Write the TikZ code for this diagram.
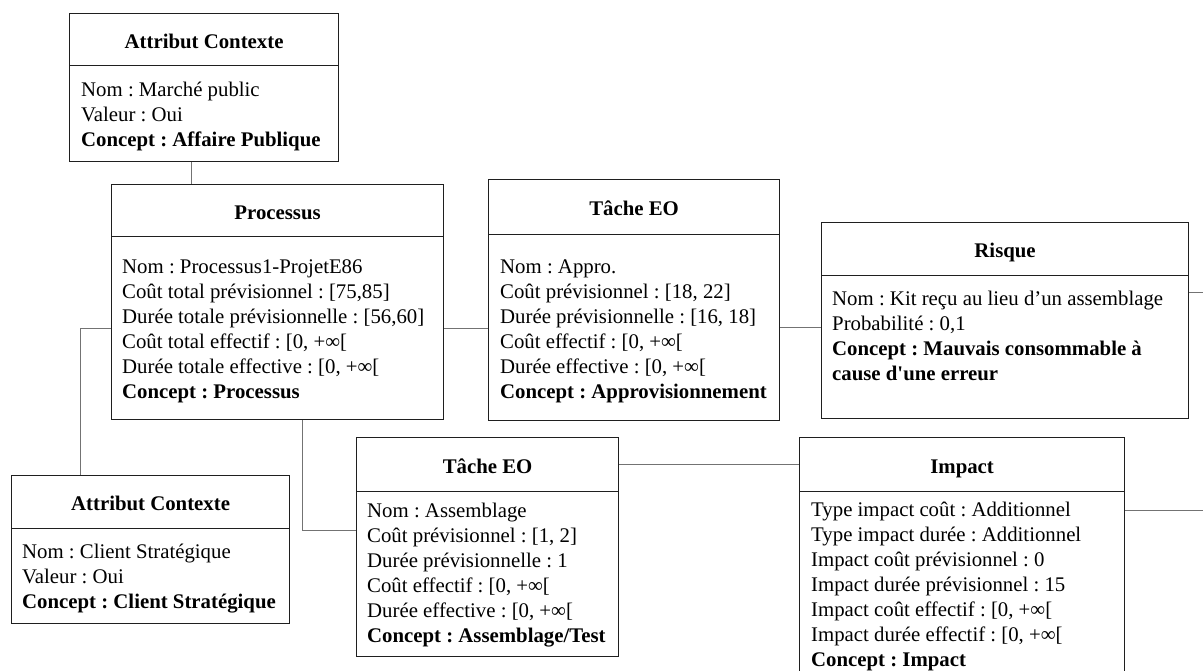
\documentclass[tikz,border=0pt]{standalone}
\usepackage{fontspec}
\setmainfont{Liberation Serif}
\usetikzlibrary{calc}
\frenchspacing
\begin{document}
\begin{tikzpicture}[x=1pt,y=-1pt,
  boxpart/.style={draw=black!88, line width=1.2pt, rectangle, inner sep=0pt, anchor=north west},
  headbox/.style={boxpart, font=\fontsize{20.8}{25}\selectfont\bfseries, text height=17pt, text depth=0pt},
  bodytext/.style={anchor=north west, inner sep=0pt, align=left, font=\fontsize{20.8}{25}\selectfont},
  conn/.style={draw=black!55, line width=0.9pt}]
\clip (0,0) rectangle (1203,671);
\fill[white] (0,0) rectangle (1203,671);
\coordinate (edgeR) at (1203,0);

% Attribut Contexte (top)
\node[headbox, minimum width=269pt, minimum height=52pt] (attrH) at (69,13) {Attribut Contexte};
\node[boxpart, minimum width=269pt, minimum height=96pt] (attrB) at (69,65) {};
\node[bodytext] (attrT) at (81,78.5) {\strut Nom : Marché public\\ Valeur : Oui\\ \textbf{Concept : Affaire Publique}};

% Processus
\node[headbox, minimum width=332pt, minimum height=52pt] (procH) at (111,184) {Processus};
\node[boxpart, minimum width=332pt, minimum height=183pt] (procB) at (111,236) {};
\node[bodytext] (procT) at (122,255.5) {\strut Nom : Processus1-ProjetE86\\ Coût total prévisionnel : [75,85]\\ Durée totale prévisionnelle : [56,60]\\ Coût total effectif : [0, +∞[\\ Durée totale effective : [0, +∞[\\ \textbf{Concept : Processus}};

% Tache EO (Appro)
\node[headbox, minimum width=291pt, minimum height=55pt] (tacheaH) at (488,179) {Tâche EO};
\node[boxpart, minimum width=291pt, minimum height=186pt] (tacheaB) at (488,234) {};
\node[bodytext] (tacheaT) at (500,255.5) {\strut Nom : Appro.\\ Coût prévisionnel : [18, 22]\\ Durée prévisionnelle : [16, 18]\\ Coût effectif : [0, +∞[\\ Durée effective : [0, +∞[\\ \textbf{Concept : Approvisionnement}};

% Risque
\node[headbox, minimum width=367pt, minimum height=53pt] (risqueH) at (821,222) {Risque};
\node[boxpart, minimum width=367pt, minimum height=143pt] (risqueB) at (821,275) {};
\node[bodytext] (risqueT) at (832,287.5) {\strut Nom : Kit reçu au lieu d’un assemblage\\ Probabilité : 0,1\\ \textbf{Concept : Mauvais consommable à}\\ \textbf{cause d\textquotesingle une erreur}};

% Attribut Contexte (client)
\node[headbox, minimum width=278pt, minimum height=53pt] (clientH) at (11,475) {Attribut Contexte};
\node[boxpart, minimum width=278pt, minimum height=95pt] (clientB) at (11,528) {};
\node[bodytext] (clientT) at (22,540.8) {\strut Nom : Client Stratégique\\ Valeur : Oui\\ \textbf{Concept : Client Stratégique}};

% Tache EO (Assemblage)
\node[headbox, minimum width=262pt, minimum height=54pt] (tachebH) at (356,437) {Tâche EO};
\node[boxpart, minimum width=262pt, minimum height=165pt] (tachebB) at (356,491) {};
\node[bodytext] (tachebT) at (367,500) {\strut Nom : Assemblage\\ Coût prévisionnel : [1, 2]\\ Durée prévisionnelle : 1\\ Coût effectif : [0, +∞[\\ Durée effective : [0, +∞[\\ \textbf{Concept : Assemblage/Test}};

% Impact
\node[headbox, minimum width=325pt, minimum height=54pt] (impactH) at (799,437) {Impact};
\node[boxpart, minimum width=325pt, minimum height=229pt] (impactB) at (799,491) {};
\node[bodytext] (impactT) at (811,498.5) {\strut Type impact coût : Additionnel\\ Type impact durée : Additionnel\\ Impact coût prévisionnel : 0\\ Impact durée prévisionnel : 15\\ Impact coût effectif : [0, +∞[\\ Impact durée effectif : [0, +∞[\\ \textbf{Concept : Impact}};

% connectors
\coordinate (c1) at ($(attrB.south west)+(122,0)$);
\draw[conn] (c1) -- (c1 |- procH.north);
\draw[conn] (procB.east) -- (procB.east -| tacheaB.west);
\draw[conn] (tacheaB.east) -- (tacheaB.east -| risqueB.west);
\coordinate (r1) at ($(risqueB.north east)+(0,17)$);
\draw[conn] (r1) -- (r1 -| edgeR);
\coordinate (c2) at ($(clientH.north west)+(69,0)$);
\draw[conn] (procB.west) -| (c2);
\coordinate (c3) at ($(procB.south west)+(191,0)$);
\coordinate (c4) at ($(tachebB.north west)+(0,39)$);
\draw[conn] (c3) |- (c4);
\draw[conn] (tachebH.east) -- (impactH.west);
\coordinate (i1) at ($(impactB.north east)+(0,19)$);
\draw[conn] (i1) -- (i1 -| edgeR);
\end{tikzpicture}
\end{document}
